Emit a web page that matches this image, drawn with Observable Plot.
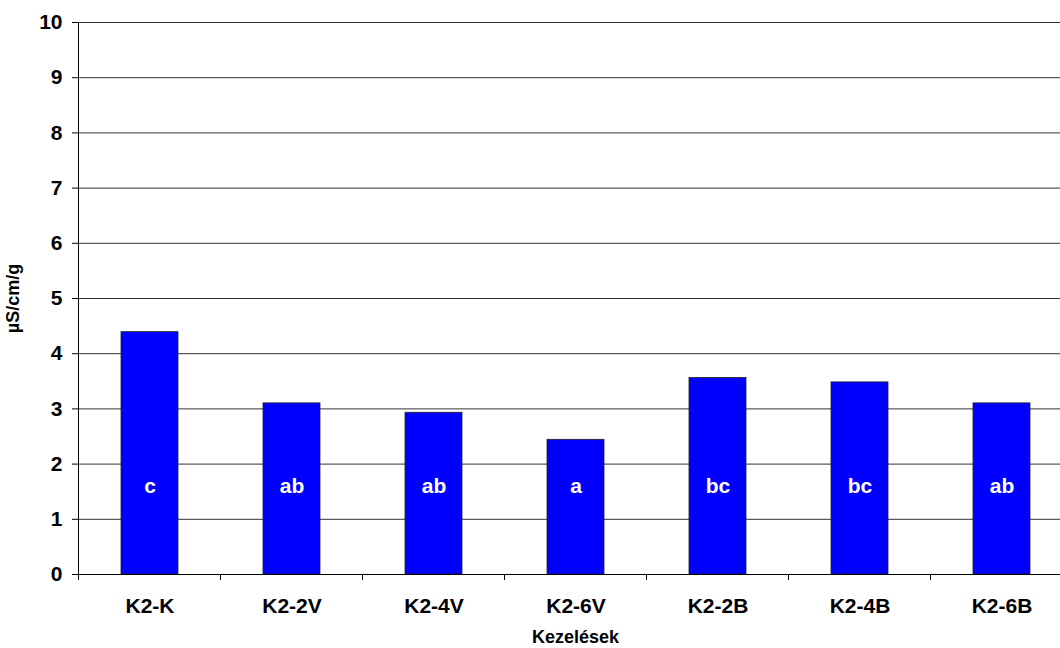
<!DOCTYPE html>
<html>
<head>
<meta charset="utf-8">
<script src="https://cdn.jsdelivr.net/npm/d3@7"></script>
<script src="https://cdn.jsdelivr.net/npm/@observablehq/plot@0.6"></script>
<style>
  html, body { margin: 0; padding: 0; background: #fff; overflow: hidden; }
  #chart svg { display: block; }
</style>
</head>
<body>
<div id="chart"></div>
<script>
const categories = ["K2-K", "K2-2V", "K2-4V", "K2-6V", "K2-2B", "K2-4B", "K2-6B"];
const values = [4.39, 3.10, 2.93, 2.44, 3.56, 3.48, 3.10];
const letters = ["c", "ab", "ab", "a", "bc", "bc", "ab"];
const yTicks = [0, 1, 2, 3, 4, 5, 6, 7, 8, 9, 10];
const yTitle = "µS/cm/g";
const xTitle = "Kezelések";

const data = categories.map((c, i) => ({cat: c, value: values[i], letter: letters[i]}));

// category boundary ticks below the x axis, positioned from the band scale
function boundaryTicks(index, scales, channels, dims) {
  const x = scales.x;
  const step = typeof x.step === "function" ? x.step() : scales.scales.x.step;
  const bw = typeof x.bandwidth === "function" ? x.bandwidth() : scales.scales.x.bandwidth;
  const y0 = dims.height - dims.marginBottom;
  const g = d3.create("svg:g");
  const xs = categories.map(c => x(c) + bw / 2 - step / 2);
  xs.push(x(categories[categories.length - 1]) + bw / 2 + step / 2);
  for (const px of xs) {
    g.append("line")
      .attr("x1", px).attr("x2", px)
      .attr("y1", y0).attr("y2", y0 + 6)
      .attr("stroke", "#000").attr("stroke-width", 1);
  }
  return g.node();
}

const chart = Plot.plot({
  width: 1060,
  height: 648,
  marginLeft: 78,
  marginRight: -12,
  marginTop: 22,
  marginBottom: 74,
  style: {
    fontFamily: "'Liberation Sans', Arial, sans-serif",
    fontWeight: "bold",
    fontSize: "21px",
    color: "#000",
    background: "#fff"
  },
  x: {domain: categories, paddingInner: 0.6, paddingOuter: 0.3, label: null},
  y: {domain: [0, 10], label: null},
  marks: [
    Plot.ruleY(yTicks, {stroke: "#333", strokeWidth: 1}),
    Plot.axisY({ticks: yTicks, tickSize: 6, tickPadding: 10, fontSize: 21, fontWeight: "bold", label: null}),
    Plot.axisX({tickSize: 0, tickPadding: 24, fontSize: 21, fontWeight: "bold", label: null}),
    Plot.barY(data, {x: "cat", y: "value", fill: "#0000ff", stroke: "#222", strokeWidth: 0.8}),
    Plot.text(data, {x: "cat", y: 1.6, text: "letter", fill: "#fff", fontSize: 21, fontWeight: "bold"}),
    Plot.ruleY([0], {stroke: "#000", strokeWidth: 1}),
    Plot.frame({anchor: "left", stroke: "#000"}),
    boundaryTicks,
    Plot.text([yTitle], {frameAnchor: "left", textAnchor: "middle", dx: -65, rotate: -90, fontSize: 18, fontWeight: "bold", fill: "#000"}),
    Plot.text([xTitle], {frameAnchor: "bottom", textAnchor: "middle", dy: 68, fontSize: 18, fontWeight: "bold", fill: "#000"})
  ]
});
document.getElementById("chart").appendChild(chart);
</script>
</body>
</html>
